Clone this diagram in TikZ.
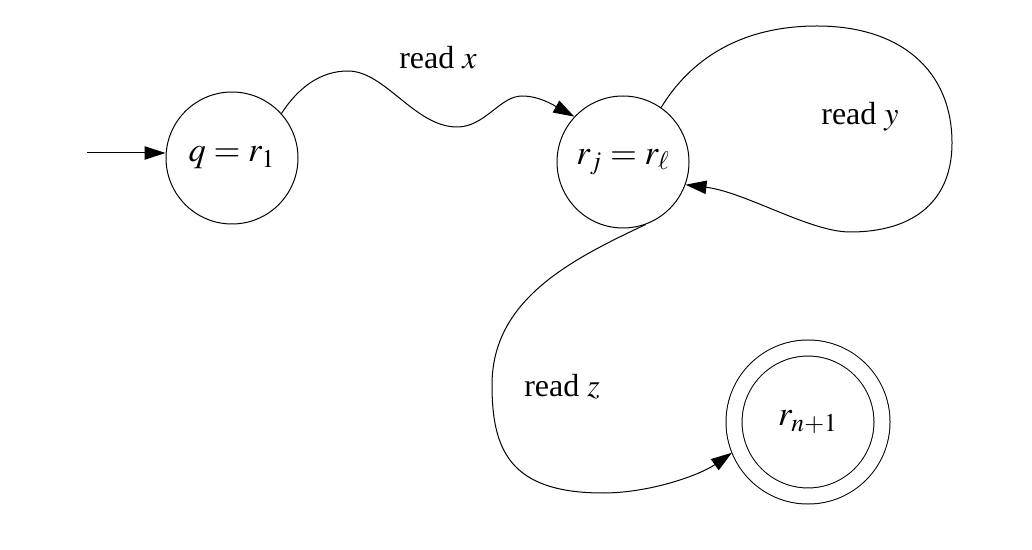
\documentclass[tikz,border=0pt]{standalone}
\usepackage{mathptmx}
\usepackage{fontspec}
\setmainfont{Liberation Serif}
\usepackage{tikz}
\usetikzlibrary{arrows.meta,shapes,positioning}
\tikzstyle{state} = [circle, draw, line width=0.5pt, minimum size=66pt, inner sep=0pt, font=\fontsize{17.3}{20}\selectfont]
\tikzstyle{accept} = [circle, draw, line width=0.5pt, double, double distance=7.5pt, minimum size=74pt, inner sep=0pt, outer sep=4pt, font=\fontsize{17.3}{20}\selectfont]
\tikzstyle{arrow} = [line width=0.5pt, -{Triangle[length=10.5pt,width=6.7pt]}]
\tikzstyle{edgelabel} = [inner sep=0pt]

\begin{document}
\begin{tikzpicture}[x=0.5pt, y=-0.5pt, font=\fontsize{16}{19}\selectfont]
\useasboundingbox (0,0) rectangle (1032,550);
% States
\node[state] (q) at (232,158) {$q = r_1$};
\node[state] (rj) at (623,162) {$r_j = r_\ell$};
\node[accept] (rn) at (808,422) {$r_{n+1}$};
\coordinate (init) at (87,153);

% Labels
\node[edgelabel] (lx) at (438,58) {read $x$};
\node[edgelabel] (ly) at (860,117) {read $y$};
\node[edgelabel] (lz) at (562,387) {read $z$};

% Transitions
\draw[arrow] (init) -- (init -| q.west);
\draw[arrow] (q.42) .. controls (298,88) and (320,71) .. (348,71)
  .. controls (385,71) and (415,127) .. (457,127)
  .. controls (485,127) and (500,96) .. (522,96)
  .. controls (540,96) and (555,106) .. (rj.137);
\draw[arrow] (rj.55) .. controls (690,60) and (740,26) .. (817,26)
  .. controls (900,26) and (952,70) .. (952,143)
  .. controls (952,200) and (915,232) .. (850,232)
  .. controls (810,232) and (745,192) .. (rj.-20);
\draw[arrow] (rj.-70) .. controls (570,260) and (492,300) .. (492,385)
  .. controls (492,450) and (510,493) .. (603,493)
  .. controls (650,493) and (700,475) .. (rn.202);
\end{tikzpicture}
\end{document}
